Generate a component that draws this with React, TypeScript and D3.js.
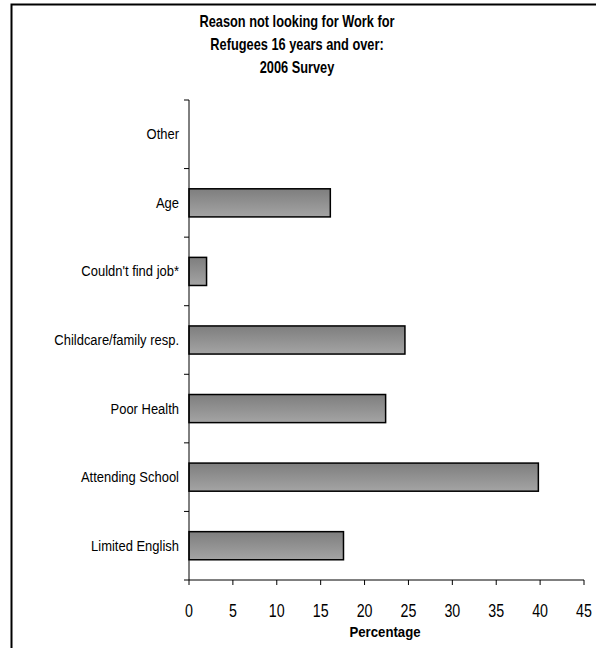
import React from "react";
import * as d3 from "d3";

const categories = ["Other", "Age", "Couldn't find job*", "Childcare/family resp.", "Poor Health", "Attending School", "Limited English"];
const values = [0, 16.1, 2.0, 24.6, 22.4, 39.8, 17.6];
const xTicks = [0, 5, 10, 15, 20, 25, 30, 35, 40, 45];
const titleLines = ["Reason not looking for Work for", "Refugees 16 years and over:", "2006 Survey"];
const xLabel = "Percentage";

const FONT = "'Liberation Sans', Arial, sans-serif";

function NText({ x, y, sx, anchor, size, bold, children }: any) {
  return (
    <g transform={`translate(${x},${y}) scale(${sx},1)`}>
      <text x={0} y={0} textAnchor={anchor} fontFamily={FONT} fontSize={size} fontWeight={bold ? "bold" : "normal"} fill="#000">
        {children}
      </text>
    </g>
  );
}

export default function App() {
  const W = 596, H = 648;
  const left = 189, right = 584, top = 100, bottom = 580;
  const x = d3.scaleLinear().domain([0, 45]).range([left, right]);
  const y = d3.scaleBand().domain(categories).range([top, bottom]).paddingInner(0.59).paddingOuter(0.295);
  const band = (bottom - top) / categories.length;
  const bounds = d3.range(categories.length + 1).map((i) => top + i * band);

  return (
    <svg width={W} height={H} style={{ position: "absolute", left: 0, top: 0, background: "#fff" }}>
      <defs>
        <linearGradient id="barGrad" x1="0" y1="0" x2="0" y2="1">
          <stop offset="0%" stopColor="#7e7e7e" />
          <stop offset="100%" stopColor="#a4a4a4" />
        </linearGradient>
      </defs>
      <rect x={0} y={0} width={W} height={H} fill="#fff" />
      <rect x={11.5} y={4.5} width={W + 10} height={H + 10} fill="none" stroke="#000" strokeWidth={2} />
      {titleLines.map((t, i) => (
        <NText key={i} x={297} y={27 + i * 23} sx={0.8} anchor="middle" size={16} bold>
          {t}
        </NText>
      ))}
      {categories.map((c, i) => (
        <g key={c}>
          {values[i] > 0 && (
            <rect
              x={x(0)}
              y={y(c)!}
              width={x(values[i]) - x(0)}
              height={y.bandwidth()}
              fill="url(#barGrad)"
              stroke="#000"
              strokeWidth={1.5}
            />
          )}
          <NText x={179} y={y(c)! + y.bandwidth() / 2 + 5} sx={0.865} anchor="end" size={15}>
            {c}
          </NText>
        </g>
      ))}
      <line x1={left} x2={left} y1={top} y2={bottom} stroke="#000" strokeWidth={1} />
      {bounds.map((b, i) => (
        <line key={i} x1={left - 5} x2={left} y1={b} y2={b} stroke="#000" strokeWidth={1} />
      ))}
      <line x1={left} x2={right} y1={bottom} y2={bottom} stroke="#000" strokeWidth={1} />
      {xTicks.map((t) => (
        <g key={t}>
          <line x1={x(t)} x2={x(t)} y1={bottom} y2={bottom + 5} stroke="#000" strokeWidth={1} />
          <NText x={x(t)} y={617} sx={0.75} anchor="middle" size={19}>
            {t}
          </NText>
        </g>
      ))}
      <NText x={385} y={637} sx={0.88} anchor="middle" size={15} bold>
        {xLabel}
      </NText>
    </svg>
  );
}
